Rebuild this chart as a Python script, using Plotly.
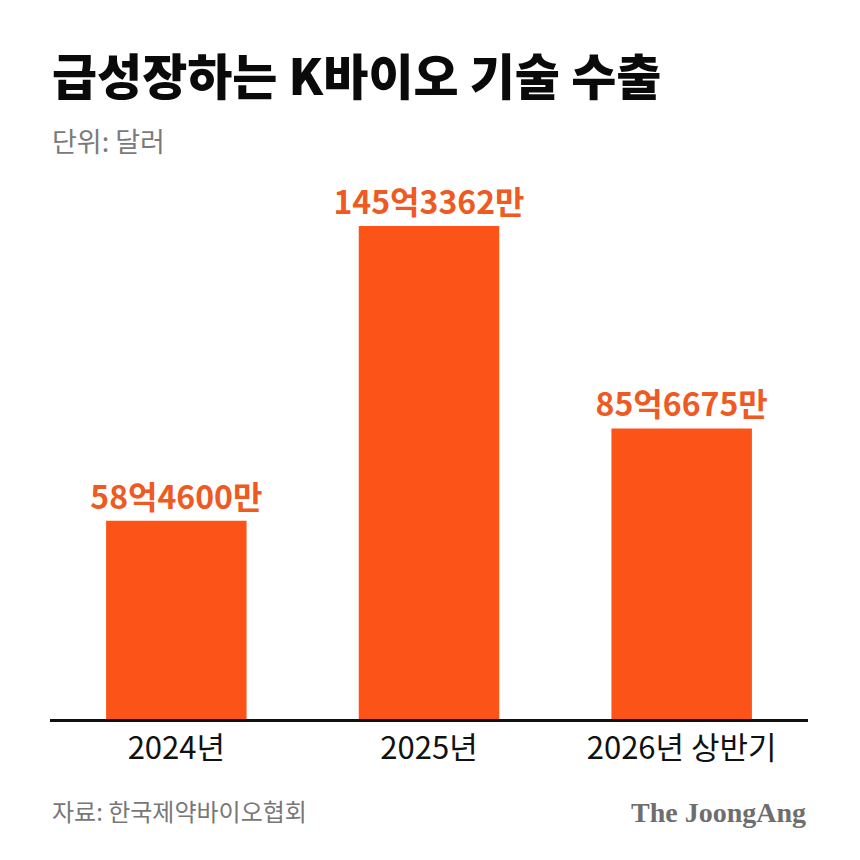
import plotly.graph_objects as go

# 기술 수출 규모 (단위: 억 달러)
periods = ["2024년", "2025년", "2026년 상반기"]
export_value = [58.46, 145.3362, 85.6675]
value_labels = ["58억4600만", "145억3362만", "85억6675만"]

BAR_COLOR = "#FB5318"
LABEL_COLOR = "#EE5A22"
KR_FONT = "Noto Sans CJK KR"

fig = go.Figure()

fig.add_trace(go.Bar(
    x=periods,
    y=export_value,
    text=value_labels,
    textposition="outside",
    constraintext="none",
    cliponaxis=False,
    textfont=dict(family=KR_FONT, size=32, color=LABEL_COLOR, weight=700),
    marker=dict(color=BAR_COLOR, line_width=0),
    hoverinfo="skip",
))

fig.update_layout(
    width=860,
    height=860,
    margin=dict(l=42, r=60, t=162, b=149),
    paper_bgcolor="white",
    plot_bgcolor="white",
    bargap=0.444,
    showlegend=False,
    xaxis=dict(
        showline=True, linecolor="#111111", linewidth=3,
        showgrid=False, ticks="",
        tickfont=dict(family=KR_FONT, size=31, color="#111111"),
        fixedrange=True,
    ),
    yaxis=dict(
        range=[0, 161.85], visible=False, showgrid=False,
        zeroline=False, fixedrange=True,
    ),
)

fig.add_annotation(
    text="급성장하는 K바이오 기술 수출", xref="paper", yref="paper",
    x=0.0, y=1.0, xanchor="left", yanchor="middle", yshift=97,
    showarrow=False,
    font=dict(family=KR_FONT, size=49, color="#0a0a0a", weight=900),
)
fig.add_annotation(
    text="단위: 달러", xref="paper", yref="paper",
    x=0.0, y=1.0, xanchor="left", yanchor="middle", yshift=30,
    showarrow=False,
    font=dict(family=KR_FONT, size=27, color="#7a7a7a"),
)
fig.add_annotation(
    text="자료: 한국제약바이오협회", xref="paper", yref="paper",
    x=0.0, y=0, xanchor="left", yanchor="middle", yshift=-91,
    showarrow=False,
    font=dict(family=KR_FONT, size=24, color="#777777"),
)
fig.add_annotation(
    text="The JoongAng", xref="paper", yref="paper",
    x=1.0, y=0, xanchor="right", yanchor="middle", yshift=-93,
    showarrow=False,
    font=dict(family="Liberation Serif", size=28, color="#6e6e6e", weight=700),
)

fig.write_html("out.html")
